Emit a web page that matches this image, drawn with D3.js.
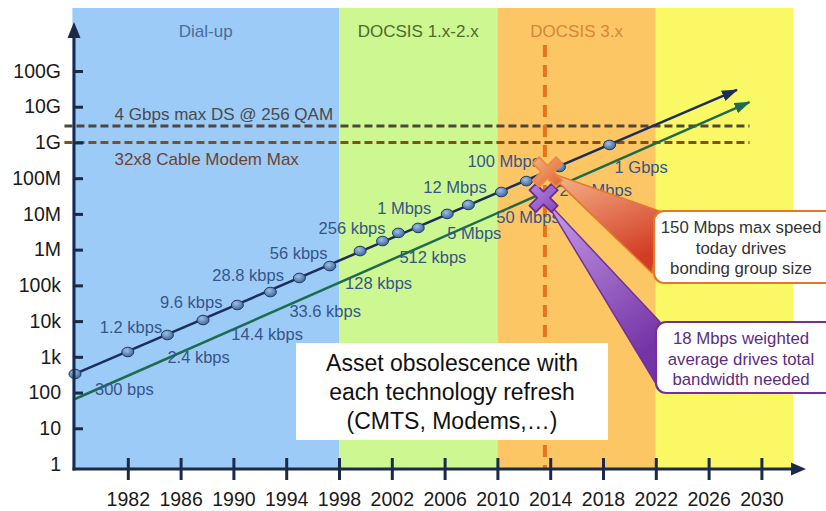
<!DOCTYPE html>
<html>
<head>
<meta charset="utf-8">
<script src="https://cdn.jsdelivr.net/npm/d3@7"></script>
<style>
  body { margin: 0; background: #fff; }
  svg { display: block; font-family: "Liberation Sans", Arial, sans-serif; }
</style>
</head>
<body>
<svg id="chart" width="826" height="511"></svg>
<script>
// ---- data ----
const eraNames = ["Dial-up", "DOCSIS 1.x-2.x", "DOCSIS 3.x", ""];
const eraStart = [1977.8, 1998, 2010, 2022];
const eraEnd = [1998, 2010, 2022, 2032.4];

const yearTicks = [1982, 1986, 1990, 1994, 1998, 2002, 2006, 2010, 2014, 2018, 2022, 2026, 2030];
const speedTicks = [1, 10, 100, 1e3, 1e4, 1e5, 1e6, 1e7, 1e8, 1e9, 1e10, 1e11];
const speedTickLabels = ["1", "10", "100", "1k", "10k", "100k", "1M", "10M", "100M", "1G", "10G", "100G"];

// max speed milestones (bps)
const speedYears = [1978, 1982, 1985, 1987.7, 1990.3, 1992.8, 1995, 1997.3, 1999.6, 2001.3,
  2002.5, 2004, 2006.2, 2007.8, 2010.3, 2012.2, 2014.7, 2018.5];
const speedValues = [331, 1365, 4080, 10700, 28200, 65000, 161000, 348000, 915000, 1.74e6,
  2.94e6, 4.05e6, 1.0e7, 1.78e7, 4.1e7, 8.3e7, 2.05e8, 8.5e8];
const speedLabels = ["300 bps", "1.2 kbps", "2.4 kbps", "9.6 kbps", "14.4 kbps", "28.8 kbps",
  "33.6 kbps", "56 kbps", "128 kbps", "256 kbps", "512 kbps", "1 Mbps", "5 Mbps", "12 Mbps",
  "50 Mbps", "100 Mbps", "250 Mbps", "1 Gbps"];

// trend lines [year, bps]
const maxTrend = [[1978, 331], [2028.15, 2.95e10]];
const avgTrend = [[1978, 66], [2029.1, 1.35e10]];

// horizontal limits
const limitNames = ["4 Gbps max DS @ 256 QAM", "32x8 Cable Modem Max"];
const limitValues = [2.9e9, 1e9];
const limitSpan = [1977.2, 2029.1];

const todayYear = 2013.6;

// today's markers
const markerYears = [2013.8, 2013.5];
const markerValues = [1.5e8, 2.8e7];
const calloutTexts = [
  ["150 Mbps max speed", "today drives", "bonding group size"],
  ["18 Mbps weighted", "average drives total", "bandwidth needed"]
];
const noteText = ["Asset obsolescence with", "each technology refresh", "(CMTS, Modems,\u2026)"];

// ---- layout / style ----
const eraColors = ["#9dcbf7", "#cdf790", "#fcc664", "#fbf866"];
const eraTextColors = ["#4c6c9c", "#4f6a2c", "#d8843c"];
const labelNudge = [[20, 21], [-28, -19], [0, 28], [-43, -12], [-6, 35], [-58, -11], [-10, 39],
  [-60, -7], [-15, 38], [-64, -7], [1, 30], [-41, -14], [0, 25], [-45, -12], [-5, 31],
  [-59, -14], [0, 29], [5, 28]];
const limitColors = ["#4e463c", "#82501a"];
const limitTextColors = ["#4a4a4a", "#6a4433"];
const axisColor = "#1b2a48";
const axisX = 74, axisY = 469, plotTop = 8;

const svg = d3.select("#chart");
const defs = svg.append("defs");

const x = d3.scaleLinear().domain([1978, 2030]).range([75, 761.4]);
const y = d3.scaleLog().domain([1, 1e11]).range([464, 71]);

// era bands
svg.selectAll(".era")
  .data(eraNames)
  .enter()
  .append("rect")
  .attr("class", "era")
  .attr("x", (d, i) => x(eraStart[i]))
  .attr("y", plotTop)
  .attr("width", (d, i) => x(eraEnd[i]) - x(eraStart[i]))
  .attr("height", axisY - plotTop)
  .attr("fill", (d, i) => eraColors[i]);

svg.selectAll(".era-title")
  .data(eraNames.slice(0, 3))
  .enter()
  .append("text")
  .attr("class", "era-title")
  .attr("x", (d, i) => (x(eraStart[i]) + x(eraEnd[i])) / 2)
  .attr("y", 37)
  .attr("text-anchor", "middle")
  .style("font-size", "17px")
  .attr("fill", (d, i) => eraTextColors[i])
  .text((d) => d);

// horizontal limit lines
svg.selectAll(".limit")
  .data(limitValues)
  .enter()
  .append("line")
  .attr("class", "limit")
  .attr("x1", x(limitSpan[0]))
  .attr("x2", x(limitSpan[1]))
  .attr("y1", (d) => y(d))
  .attr("y2", (d) => y(d))
  .attr("stroke", (d, i) => limitColors[i])
  .attr("stroke-width", 3)
  .attr("stroke-dasharray", "8,4");

svg.selectAll(".limit-label")
  .data(limitNames)
  .enter()
  .append("text")
  .attr("class", "limit-label")
  .attr("x", x(1981))
  .attr("y", (d, i) => y(limitValues[i]) + (i === 0 ? -6 : 23))
  .style("font-size", "17px")
  .attr("fill", (d, i) => limitTextColors[i])
  .text((d) => d);

// today line
svg.append("line")
  .attr("x1", x(todayYear))
  .attr("x2", x(todayYear))
  .attr("y1", 45)
  .attr("y2", axisY)
  .attr("stroke", "#e8731c")
  .attr("stroke-width", 4)
  .attr("stroke-dasharray", "12,8");

// arrow markers for trend lines
[["arrow-max", "#1d2d5c"], ["arrow-avg", "#1f6b4f"]].forEach(([id, c]) => {
  defs.append("marker")
    .attr("id", id)
    .attr("markerUnits", "userSpaceOnUse")
    .attr("viewBox", "0 -6 16 12")
    .attr("markerWidth", 16)
    .attr("markerHeight", 12)
    .attr("refX", 15)
    .attr("refY", 0)
    .attr("orient", "auto")
    .append("path")
    .attr("d", "M0,-5.5L16,0L0,5.5Z")
    .attr("fill", c);
});

const line = d3.line().x((d) => x(d[0])).y((d) => y(d[1]));

svg.append("path")
  .datum(avgTrend)
  .attr("d", line)
  .attr("fill", "none")
  .attr("stroke", "#1f6b4f")
  .attr("stroke-width", 2.5)
  .attr("marker-end", "url(#arrow-avg)");

svg.append("path")
  .datum(maxTrend)
  .attr("d", line)
  .attr("fill", "none")
  .attr("stroke", "#1d2d5c")
  .attr("stroke-width", 2.5)
  .attr("marker-end", "url(#arrow-max)");

// milestone dots
const dotGrad = defs.append("radialGradient").attr("id", "dot-grad")
  .attr("cx", "40%").attr("cy", "35%").attr("r", "65%");
dotGrad.append("stop").attr("offset", "0%").attr("stop-color", "#9ec0e6");
dotGrad.append("stop").attr("offset", "100%").attr("stop-color", "#3f6797");

svg.selectAll(".dot")
  .data(speedValues)
  .enter()
  .append("ellipse")
  .attr("class", "dot")
  .attr("cx", (d, i) => x(speedYears[i]))
  .attr("cy", (d) => y(d))
  .attr("rx", 6)
  .attr("ry", 4.8)
  .attr("fill", "url(#dot-grad)")
  .attr("stroke", "#1f3a66")
  .attr("stroke-width", 1);

svg.selectAll(".speed-label")
  .data(speedLabels)
  .enter()
  .append("text")
  .attr("class", "speed-label")
  .attr("x", (d, i) => x(speedYears[i]) + labelNudge[i][0])
  .attr("y", (d, i) => y(speedValues[i]) + labelNudge[i][1])
  .style("font-size", "16.5px")
  .attr("fill", "#35558a")
  .text((d) => d);

// note box
const note = svg.append("g");
note.append("rect")
  .attr("x", 296).attr("y", 343).attr("width", 312).attr("height", 97)
  .attr("fill", "#fff");
note.selectAll("text")
  .data(noteText)
  .enter()
  .append("text")
  .attr("x", 452)
  .attr("y", (d, i) => 371 + i * 29)
  .attr("text-anchor", "middle")
  .style("font-size", "23px")
  .attr("fill", "#111")
  .text((d) => d);

// callouts
const boxes = [
  { x: 654, y: 211, w: 184, h: 72, stroke: "#e3782c", text: "#333", fillA: "#f7b98e", fillB: "#d23c24",
    xa: "#f6b27e", xb: "#e2602c", xs: "#e98a46", base: [[8, 1], [-2, 62]] },
  { x: 656, y: 322, w: 184, h: 71, stroke: "#73309c", text: "#5a2c82", fillA: "#caa0ea", fillB: "#7434a6",
    xa: "#b487e0", xb: "#8446bc", xs: "#6a2a91", base: [[4, 0], [2, 65]] }
];

boxes.forEach((b, i) => {
  const cx = x(markerYears[i]);
  const cy = y(markerValues[i]);
  const g = defs.append("linearGradient").attr("id", "wedge" + i)
    .attr("x1", "0").attr("y1", "0").attr("x2", "0.5").attr("y2", "1");
  g.append("stop").attr("offset", "0%").attr("stop-color", b.fillA);
  g.append("stop").attr("offset", "100%").attr("stop-color", b.fillB);

  svg.append("path")
    .attr("d", d3.line()([[cx, cy], [b.x + b.base[0][0], b.y + b.base[0][1]], [b.x + b.base[1][0], b.y + b.base[1][1]]]) + "Z")
    .attr("fill", `url(#wedge${i})`)
    .attr("stroke", b.stroke)
    .attr("stroke-width", 1.5)
    .attr("stroke-linejoin", "round");
});

// X markers
const xShape = (L, w) => {
  const pts = [[w, w], [w, L], [-w, L], [-w, w], [-L, w], [-L, -w], [-w, -w], [-w, -L], [w, -L], [w, -w], [L, -w], [L, w]];
  const c = Math.SQRT1_2;
  return pts.map(([a, b]) => [(a - b) * c, (a + b) * c]);
};

boxes.slice().reverse().forEach((b, k) => {
  const i = boxes.length - 1 - k;
  const cx = x(markerYears[i]);
  const cy = y(markerValues[i]);
  const g = defs.append("linearGradient").attr("id", "xg" + i)
    .attr("x1", "0").attr("y1", "0").attr("x2", "1").attr("y2", "1");
  g.append("stop").attr("offset", "0%").attr("stop-color", b.xa);
  g.append("stop").attr("offset", "100%").attr("stop-color", b.xb);
  svg.append("path")
    .attr("transform", `translate(${cx},${cy})`)
    .attr("d", d3.line()(xShape(i === 0 ? 16.5 : 15.5, 4.5)) + "Z")
    .attr("fill", `url(#xg${i})`)
    .attr("stroke", b.xs)
    .attr("stroke-width", 1.8)
    .attr("stroke-linejoin", "round");
});

boxes.forEach((b, i) => {
  svg.append("rect")
    .attr("x", b.x).attr("y", b.y).attr("width", b.w).attr("height", b.h)
    .attr("rx", 10)
    .attr("fill", "#fff")
    .attr("stroke", b.stroke)
    .attr("stroke-width", 2.2);
  svg.selectAll(".callout" + i)
    .data(calloutTexts[i])
    .enter()
    .append("text")
    .attr("x", 741)
    .attr("y", (d, j) => b.y + 22 + j * 20.5)
    .attr("text-anchor", "middle")
    .style("font-size", "16.8px")
    .attr("fill", b.text)
    .text((d) => d);
});

// axes
const yAxis = svg.append("g")
  .attr("transform", `translate(${axisX},0)`)
  .call(d3.axisLeft(y).tickValues(speedTicks).tickFormat((d, i) => speedTickLabels[i]).tickSize(12).tickPadding(1));
yAxis.select(".domain").remove();
yAxis.selectAll(".tick line")
  .attr("x2", 9)
  .attr("stroke", axisColor)
  .attr("stroke-width", 3)
  .attr("opacity", (d) => (d === 1 ? 0 : 1));
yAxis.selectAll(".tick text")
  .style("font-size", "19.5px")
  .style("font-family", "Liberation Sans, Arial, sans-serif")
  .attr("fill", "#1a1a1a");

const xAxis = svg.append("g")
  .attr("transform", `translate(0,${axisY})`)
  .call(d3.axisBottom(x).tickValues(yearTicks).tickFormat(d3.format("d")).tickSize(11).tickPadding(12));
xAxis.select(".domain").remove();
xAxis.selectAll(".tick line")
  .attr("y1", -11)
  .attr("stroke", axisColor)
  .attr("stroke-width", 3);
xAxis.selectAll(".tick text")
  .style("font-size", "19.5px")
  .style("font-family", "Liberation Sans, Arial, sans-serif")
  .attr("fill", "#1a1a1a");

svg.append("line")
  .attr("x1", axisX).attr("x2", axisX).attr("y1", axisY + 1.5).attr("y2", 34)
  .attr("stroke", axisColor).attr("stroke-width", 3);
svg.append("path")
  .attr("d", d3.line()([[axisX, 22], [axisX - 6.5, 38], [axisX + 6.5, 38]]) + "Z")
  .attr("fill", axisColor);
svg.append("line")
  .attr("x1", axisX - 1.5).attr("x2", 795).attr("y1", axisY).attr("y2", axisY)
  .attr("stroke", axisColor).attr("stroke-width", 3);
svg.append("path")
  .attr("d", d3.line()([[806, axisY], [791, axisY - 6.5], [791, axisY + 6.5]]) + "Z")
  .attr("fill", axisColor);
</script>
</body>
</html>
